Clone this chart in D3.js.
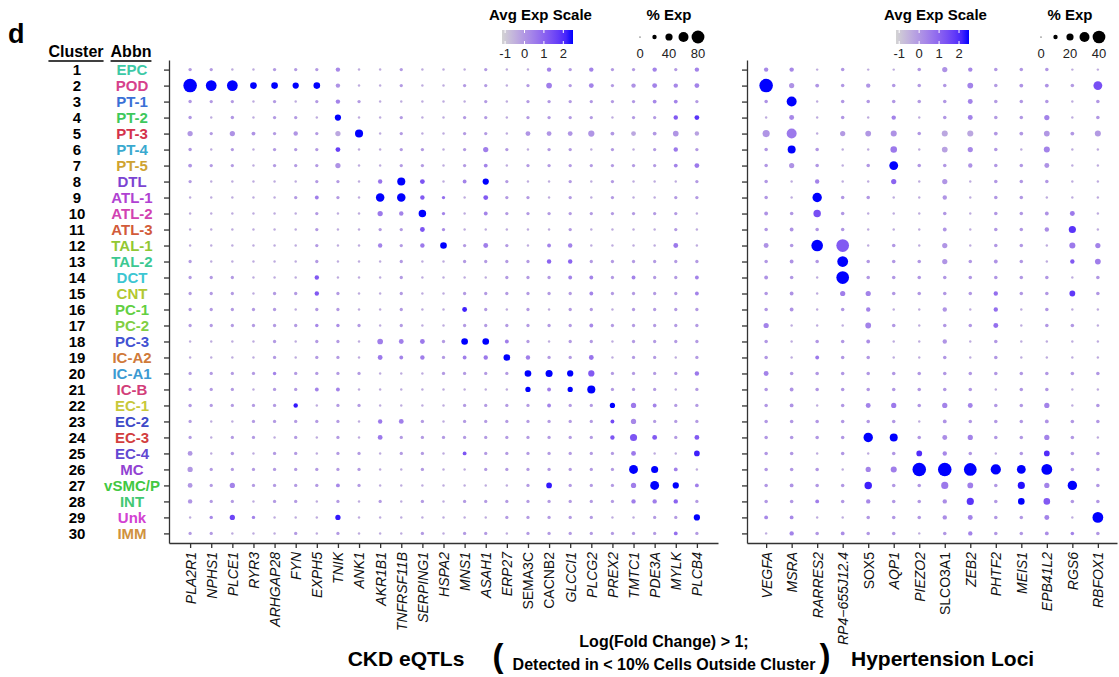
<!DOCTYPE html>
<html>
<head>
<meta charset="utf-8">
<script src="https://cdn.jsdelivr.net/npm/d3@7"></script>
<style>
  body { margin: 0; background: #fff; }
  svg { font-family: "Liberation Sans", Arial, sans-serif; }
  .axis path, .axis line { stroke: #333; stroke-width: 1.3; }
</style>
</head>
<body>
<svg id="fig" width="1119" height="677"></svg>
<script>
let clusters = [1,2,3,4,5,6,7,8,9,10,11,12,13,14,15,16,17,18,19,20,21,22,23,24,25,26,27,28,29,30]
let abbns = ["EPC","POD","PT-1","PT-2","PT-3","PT-4","PT-5","DTL","ATL-1","ATL-2","ATL-3","TAL-1","TAL-2","DCT","CNT",
  "PC-1","PC-2","PC-3","IC-A2","IC-A1","IC-B","EC-1","EC-2","EC-3","EC-4","MC","vSMC/P","INT","Unk","IMM"]
let abbnColors = ["#3dc9a6","#d6418c","#3a70d6","#3ec85c","#d4324c","#3aa9cf","#cfa332","#7b44d2","#b042d2","#d242b2","#d25b3a","#92c833",
  "#3cc892","#3cc6d2","#b2c832","#62cf42","#82cf42","#4252d2","#d07a3a","#3c9ad2","#d23e7a","#c8c83a","#3e4ac8","#d23e3e","#6249d2",
  "#9242d2","#42c842","#42c872","#d242d2","#d0923e"]

let ckdGenes = ["PLA2R1","NPHS1","PLCE1","RYR3","ARHGAP28","FYN","EXPH5","TNIK","ANK1","AKR1B1","TNFRSF11B","SERPING1","HSPA2",
  "MNS1","ASAH1","ERP27","SEMA3C","CACNB2","GLCCI1","PLCG2","PREX2","TMTC1","PDE3A","MYLK","PLCB4"]
let htnGenes = ["VEGFA","MSRA","RARRES2","RP4\u2212655J12.4","SOX5","AQP1","PIEZO2","SLCO3A1","ZEB2","PHTF2","MEIS1","EPB41L2","RGS6","RBFOX1"]
let uprightGenes = ["SEMA3C","CACNB2","SOX5","SLCO3A1"]

// percent of cells expressing, one row per cluster
let ckdPct = [
  [13,12,6,6,12,12,12,20,6,6,12,6,6,6,12,6,6,20,12,20,12,12,20,12,20],
  [85,65,65,36,36,33,36,20,6,6,12,6,6,12,12,6,12,29,12,23,12,20,23,20,23],
  [13,12,12,6,12,6,12,20,12,6,6,6,6,6,12,6,12,12,12,12,12,12,16,16,12],
  [13,6,13,6,12,12,6,33,6,6,12,6,6,12,12,6,12,12,12,12,6,12,12,20,23],
  [26,12,26,16,12,20,12,26,46,6,12,6,6,12,12,6,23,23,23,33,16,23,16,29,20],
  [13,6,12,6,12,12,12,23,6,6,12,12,6,12,26,12,6,12,12,6,12,6,12,20,12],
  [16,12,12,6,12,12,12,26,6,6,12,12,6,12,16,6,12,12,12,12,12,12,12,16,23],
  [12,6,6,6,6,6,12,12,6,20,46,23,6,16,33,12,6,6,12,6,12,6,6,6,12],
  [6,6,6,6,6,12,16,12,6,49,49,20,12,6,23,12,12,6,12,6,12,6,6,12,12],
  [6,6,6,6,6,6,12,6,6,26,20,42,12,6,16,12,12,12,12,12,12,12,12,12,6],
  [6,6,6,6,6,6,12,6,6,12,12,23,12,6,6,6,6,6,12,6,6,6,6,12,6],
  [6,6,6,6,6,6,12,6,6,20,12,20,36,12,23,12,6,16,20,6,6,6,6,23,6],
  [12,6,6,6,6,6,12,6,6,6,12,6,6,12,12,12,12,20,20,12,12,12,12,12,12],
  [12,12,12,6,6,6,20,6,6,6,12,6,6,6,6,12,12,12,16,16,12,16,12,12,16],
  [12,12,12,6,12,12,20,12,6,6,12,6,6,12,12,12,12,12,12,16,12,12,12,12,16],
  [12,12,12,12,12,6,12,12,6,6,12,6,6,23,12,6,12,6,12,12,6,12,12,12,12],
  [12,12,12,12,12,12,13,13,12,6,12,6,6,12,12,12,12,12,12,16,12,12,12,12,12],
  [6,6,6,6,12,6,12,12,6,29,23,23,12,36,36,16,12,6,12,12,6,12,12,12,12],
  [6,6,6,6,12,6,12,12,6,23,16,20,12,16,20,36,20,12,12,23,6,12,12,6,12],
  [12,12,12,12,13,12,12,12,12,6,6,6,12,12,12,12,36,39,33,33,12,12,12,12,20],
  [12,12,12,6,12,12,16,16,6,6,6,6,6,6,6,6,26,16,26,46,12,12,12,6,12],
  [13,12,12,12,12,20,6,12,12,6,6,6,6,12,12,12,12,16,12,12,26,26,16,12,12],
  [12,6,6,12,12,12,12,12,6,20,23,12,6,12,12,12,12,12,12,12,16,26,12,12,12],
  [12,6,12,12,6,12,6,12,6,23,12,12,12,12,12,12,12,12,12,12,20,39,23,12,23],
  [23,6,13,6,12,12,6,12,12,6,12,12,6,16,12,12,12,12,12,12,12,23,6,6,29],
  [26,12,12,12,12,12,12,12,12,6,6,12,6,6,12,12,12,12,12,12,12,52,39,16,6],
  [23,12,26,12,12,12,12,16,12,6,6,6,6,6,6,6,12,29,12,12,12,26,52,33,16],
  [20,12,12,6,12,12,6,12,6,12,6,12,6,12,12,12,12,12,12,12,12,20,20,20,12],
  [6,13,26,13,6,6,6,26,6,6,6,6,6,6,6,12,12,12,12,12,6,6,12,12,33],
  [12,12,6,6,6,12,6,12,6,6,6,12,6,12,12,6,12,12,12,12,12,12,12,16,12]
]
// scaled average expression
let ckdExp = [
  [-0.05,-0.05,-0.4,-0.4,-0.05,-0.05,-0.05,0.3,-0.4,-0.4,-0.05,-0.4,-0.4,-0.4,-0.05,-0.4,-0.4,0.4,-0.05,0.4,-0.05,-0.05,0.4,-0.05,0.4],
  [2.5,2.5,2.5,2.5,2.5,2.5,2.5,0.1,-0.4,-0.4,-0.05,-0.4,-0.4,-0.05,-0.05,-0.4,-0.05,0.5,-0.05,0.4,-0.05,0.1,0.4,0.3,0.4],
  [0,-0.05,-0.05,-0.4,-0.05,-0.4,-0.05,0.4,-0.05,-0.4,-0.4,-0.4,-0.4,-0.4,-0.05,-0.4,-0.05,0,-0.05,0,-0.05,0,0.3,0.4,-0.05],
  [0,-0.4,0,-0.4,-0.05,-0.05,-0.4,2.5,-0.4,-0.4,-0.05,-0.4,-0.4,-0.05,-0.05,-0.4,-0.05,-0.05,-0.05,-0.05,-0.4,-0.05,-0.05,1.2,1.9],
  [0,-0.05,0.1,0.1,-0.05,0.05,-0.05,-0.3,2.5,-0.4,-0.05,-0.4,-0.4,-0.05,-0.05,-0.4,0.05,0.05,0.05,0.05,0,-0.3,0,0.05,-0.2],
  [0,-0.4,-0.05,-0.4,-0.05,-0.05,-0.05,1.7,-0.4,-0.4,-0.05,-0.05,-0.4,-0.05,0.5,-0.05,-0.4,-0.05,-0.05,-0.4,-0.05,-0.4,-0.05,0.6,-0.05],
  [0.05,-0.05,-0.05,-0.4,-0.05,-0.05,-0.05,0.1,-0.4,-0.4,-0.05,-0.05,-0.4,-0.05,0.4,-0.4,-0.05,-0.05,-0.05,-0.05,-0.05,-0.05,-0.05,0.4,0.6],
  [-0.05,-0.4,-0.4,-0.4,-0.4,-0.4,-0.05,-0.05,-0.4,0.7,2.5,1.3,-0.4,0.4,2.5,-0.05,-0.4,-0.4,-0.05,-0.4,-0.05,-0.4,-0.4,-0.4,-0.05],
  [-0.4,-0.4,-0.4,-0.4,-0.4,-0.05,0.5,-0.05,-0.4,2.5,2.5,1.2,0.8,-0.4,1.2,-0.05,-0.05,-0.4,-0.05,-0.4,-0.05,-0.4,-0.4,-0.05,-0.05],
  [-0.4,-0.4,-0.4,-0.4,-0.4,-0.4,-0.05,-0.4,-0.4,0.6,0.4,2.5,0.4,-0.4,0.4,-0.05,-0.05,-0.05,-0.05,-0.05,-0.05,-0.05,-0.05,-0.05,-0.4],
  [-0.4,-0.4,-0.4,-0.4,-0.4,-0.4,-0.05,-0.4,-0.4,-0.05,-0.05,1.3,0.2,-0.4,-0.4,-0.4,-0.4,-0.4,-0.05,-0.4,-0.4,-0.4,-0.4,-0.05,-0.4],
  [-0.4,-0.4,-0.4,-0.4,-0.4,-0.4,-0.05,-0.4,-0.4,0.4,-0.05,0.6,2.5,-0.05,0.5,-0.05,-0.4,0.4,0.4,-0.4,-0.4,-0.4,-0.4,0.6,-0.4],
  [-0.05,-0.4,-0.4,-0.4,-0.4,-0.4,-0.05,-0.4,-0.4,-0.4,-0.05,-0.4,-0.4,-0.05,-0.05,-0.05,-0.05,1.0,1.0,-0.05,-0.05,-0.05,-0.05,-0.05,-0.05],
  [-0.05,-0.05,-0.05,-0.4,-0.4,-0.4,1.2,-0.4,-0.4,-0.4,-0.05,-0.4,-0.4,-0.4,-0.4,-0.05,-0.05,-0.05,0.4,0.4,-0.05,0.4,-0.05,-0.05,0.4],
  [-0.05,-0.05,-0.05,-0.4,-0.05,-0.05,1.2,-0.05,-0.4,-0.4,-0.05,-0.4,-0.4,-0.05,-0.05,-0.05,-0.05,-0.05,-0.05,0.4,-0.05,-0.05,-0.05,-0.05,0.4],
  [-0.05,-0.05,-0.05,-0.05,-0.05,-0.4,-0.05,-0.05,-0.4,-0.4,-0.05,-0.4,-0.4,2.2,-0.05,-0.4,-0.05,-0.4,-0.05,-0.05,-0.4,-0.05,-0.05,-0.05,-0.05],
  [-0.05,-0.05,-0.05,-0.05,-0.05,-0.05,0.3,0.2,-0.05,-0.4,-0.05,-0.4,-0.4,-0.05,-0.05,-0.05,-0.05,-0.05,-0.05,0.3,-0.05,-0.05,-0.05,-0.05,-0.05],
  [-0.4,-0.4,-0.4,-0.4,-0.05,-0.4,-0.05,-0.05,-0.4,0.5,0.5,0.6,-0.05,2.5,2.5,0.5,-0.05,-0.4,-0.05,-0.05,-0.4,-0.05,-0.05,-0.05,-0.05],
  [-0.4,-0.4,-0.4,-0.4,-0.05,-0.4,-0.05,-0.05,-0.4,0.6,0.4,0.5,-0.05,0.5,0.6,2.5,0.5,-0.05,-0.05,0.7,-0.4,-0.05,-0.05,-0.4,-0.05],
  [-0.05,-0.05,-0.05,-0.05,0.4,-0.05,-0.05,-0.05,-0.05,-0.4,-0.4,-0.4,-0.05,-0.05,-0.05,-0.05,2.5,2.5,2.5,1.2,-0.05,-0.05,-0.05,-0.05,0.6],
  [-0.05,-0.05,-0.05,-0.4,-0.05,-0.05,0.4,0.4,-0.4,-0.4,-0.4,-0.4,-0.4,-0.4,-0.4,-0.4,2.5,0.5,2.5,2.5,-0.05,-0.05,-0.05,-0.4,-0.05],
  [0,-0.05,-0.05,-0.05,-0.05,2.3,-0.4,-0.05,-0.05,-0.4,-0.4,-0.4,-0.4,-0.05,-0.05,-0.05,-0.05,0.4,-0.05,-0.05,2.5,0.6,0.4,-0.05,-0.05],
  [-0.05,-0.4,-0.4,-0.05,-0.05,-0.05,-0.05,-0.05,-0.4,0.6,0.5,-0.05,-0.4,-0.05,-0.05,-0.05,-0.05,-0.05,-0.05,-0.05,1.5,0.3,-0.05,-0.05,-0.05],
  [-0.05,-0.4,-0.05,-0.05,-0.4,-0.05,-0.4,-0.05,-0.4,0.6,-0.05,-0.05,-0.05,-0.05,-0.05,-0.05,-0.05,-0.05,-0.05,-0.05,1.3,1.3,1.2,-0.05,1.2],
  [0,-0.4,0,-0.4,-0.05,-0.05,-0.4,-0.05,-0.05,-0.4,-0.05,-0.05,-0.4,1.3,-0.05,-0.05,-0.05,-0.05,-0.05,-0.05,-0.05,0.6,-0.4,-0.4,2.2],
  [0,-0.05,-0.05,-0.05,-0.05,-0.05,-0.05,-0.05,-0.05,-0.4,-0.4,-0.05,-0.4,-0.4,-0.05,-0.05,-0.05,-0.05,-0.05,-0.05,-0.05,2.5,2.5,0.5,-0.4],
  [0,-0.05,0.4,-0.05,-0.05,-0.05,-0.05,0.3,-0.05,-0.4,-0.4,-0.4,-0.4,-0.4,-0.4,-0.4,-0.05,2.3,-0.05,-0.05,-0.05,0.5,2.5,2.5,0.5],
  [0.05,-0.05,-0.05,-0.4,-0.05,-0.05,-0.4,-0.05,-0.4,-0.05,-0.4,-0.05,-0.4,-0.05,-0.05,-0.05,-0.05,-0.05,-0.05,-0.05,-0.05,0.5,0.5,1.0,-0.05],
  [-0.4,0.3,1.6,0.4,-0.4,-0.4,-0.4,2.3,-0.4,-0.4,-0.4,-0.4,-0.4,-0.4,-0.4,-0.05,-0.05,-0.05,-0.05,-0.05,-0.4,-0.4,-0.05,-0.05,2.5],
  [-0.05,-0.05,-0.4,-0.4,-0.4,-0.05,-0.4,-0.05,-0.4,-0.4,-0.4,-0.05,-0.4,-0.05,-0.05,-0.4,-0.05,-0.05,-0.05,-0.05,-0.05,-0.05,-0.05,0.8,-0.05]
]

let htnPct = [
  [10,10,3,7,3,3,7,13,10,7,7,7,3,3],
  [43,13,8,7,10,7,7,7,15,7,8,8,7,26],
  [7,30,3,7,7,7,7,7,12,7,7,7,3,7],
  [3,12,3,7,3,10,3,7,12,7,7,13,3,7],
  [20,30,3,13,15,16,7,16,16,8,8,15,8,16],
  [7,23,7,3,3,18,3,15,13,7,3,16,3,3],
  [7,13,7,3,7,26,7,7,10,7,7,12,3,3],
  [7,3,10,3,3,13,3,13,3,7,7,7,3,3],
  [7,3,28,7,7,3,3,10,3,7,7,3,3,3],
  [8,7,21,7,3,3,3,7,3,7,7,8,12,3],
  [7,8,7,7,3,3,3,8,3,7,7,10,20,3],
  [12,7,36,40,3,7,3,13,3,7,7,3,16,13],
  [7,8,7,33,7,7,7,13,7,8,7,3,10,15],
  [8,7,3,40,7,7,7,7,7,7,7,7,3,7],
  [7,8,3,13,13,7,7,7,7,10,7,7,15,7],
  [7,8,3,7,10,3,3,10,3,10,3,7,3,3],
  [13,3,3,3,15,7,3,7,7,12,3,7,7,3],
  [7,3,7,7,8,3,3,10,3,7,3,3,3,3],
  [7,3,8,7,7,3,3,7,3,7,3,3,3,3],
  [12,7,7,7,7,7,7,7,7,7,7,7,7,7],
  [7,8,7,7,7,7,7,7,7,3,7,7,3,3],
  [7,8,3,7,12,13,7,13,12,7,7,13,3,7],
  [7,7,7,7,7,7,3,8,7,7,7,8,7,7],
  [7,7,7,7,28,23,7,12,13,7,7,13,7,3],
  [7,7,3,7,3,7,15,10,7,3,7,15,7,7],
  [7,7,7,3,13,16,43,43,40,31,26,33,7,7],
  [7,8,7,7,21,7,7,20,15,7,20,13,28,7],
  [7,7,8,7,10,7,7,10,20,7,18,18,7,7],
  [8,8,3,3,7,7,7,10,12,7,7,12,3,33],
  [3,10,7,8,7,7,3,7,10,7,7,8,7,7]
]
let htnExp = [
  [0.3,0.3,-0.4,0,-0.4,-0.4,0,0.1,0.3,0,0,0,-0.4,-0.4],
  [2.5,0.1,0.05,0,0.05,0,-0.05,0,0.4,-0.05,0.1,0.1,-0.05,1.4],
  [0.1,2.5,-0.4,0,0,0,-0.05,0,0.4,-0.05,0,0,-0.4,0],
  [-0.4,0.3,-0.4,0,-0.4,0.4,-0.4,0,0.4,-0.05,0,0.4,-0.4,0],
  [0.05,0.6,-0.4,-0.05,0,0.1,0,-0.3,-0.3,0,0,0,0,-0.05],
  [0,2.5,0,-0.4,-0.4,0.6,-0.4,-0.2,0.3,0,-0.4,0.4,-0.4,-0.4],
  [0,0.1,0,-0.4,0,2.5,0,0,0.1,0,0,0.1,-0.4,-0.4],
  [0,-0.4,0.4,-0.4,-0.4,1.0,-0.4,0.05,-0.4,0,0,0,-0.4,-0.4],
  [0,-0.4,2.5,0,0,-0.4,-0.4,0.05,-0.4,0,0,-0.4,-0.4,-0.4],
  [0.1,0,1.4,0,-0.4,-0.4,-0.4,0,-0.4,0,0,0.1,0.6,-0.4],
  [0,0.1,0,0,-0.4,-0.4,-0.4,0.05,-0.4,0,0,0.2,1.9,-0.4],
  [0.1,0,2.5,1.2,-0.4,0,-0.4,0.05,-0.4,0,0,-0.4,0.6,0.4],
  [0,0.1,0,2.5,0,0,0,0.05,0,0.1,0,-0.4,1.2,0.5],
  [0.1,0,-0.4,2.5,0,0,0,0,0,0.05,0,0,-0.4,0],
  [0,0.1,-0.4,0.5,0.4,0,0,0,0,0.8,0,0,1.8,0],
  [0,0.1,-0.4,0,0.4,-0.4,-0.4,0.05,-0.4,0.8,-0.4,0,-0.4,-0.4],
  [0.4,-0.4,-0.4,-0.4,0.4,0,-0.4,0,0,0.8,-0.4,0,0,-0.4],
  [0,-0.4,0,0,0.2,-0.4,-0.4,0.05,-0.4,0,-0.4,-0.4,-0.4,-0.4],
  [0,-0.4,0.6,0,0,-0.4,-0.4,0,-0.4,0,-0.4,-0.4,-0.4,-0.4],
  [0.4,0,0,0,0,0,0,0,0,0,0,0,0,0],
  [0,0.1,0,0,0,0,0,0,0,-0.4,0,0,-0.4,-0.4],
  [0,0.1,-0.4,0,0.4,0.6,0.05,0.4,0.4,0,0,0.4,-0.4,0],
  [0,0,0,0,0,0,-0.4,0.1,0,0,0,0.1,0,0],
  [0,0,0,0,2.5,2.5,0,0.2,0.4,0,0,0.4,0,-0.4],
  [0,0,-0.4,0,-0.4,0,2.0,0.3,0,-0.4,0,2.0,0,0],
  [0,0,0,-0.4,0.4,0.5,2.5,2.5,2.5,2.5,2.5,2.5,0,0],
  [0,0.1,0,0,2.2,0,0,0.6,0.5,0,2.4,0.4,2.5,0],
  [0,0,0.5,0,0.3,0,0,0.2,1.9,0,2.5,1.2,0,0],
  [0.3,0.3,-0.4,-0.4,0,0,0,0.2,0.4,0,0,0.4,-0.4,2.5],
  [-0.4,0.4,0,0.2,0,0,-0.4,0,0.4,0,0,0.2,0.4,0]
]

let expTicks = [-1, 0, 1, 2]
let ckdPctBreaks = [0, 20, 40, 60, 80]
let htnPctBreaks = [0, 10, 20, 30, 40]

let svg = d3.select("#fig")
let expDomain = [-1.16, 2.5]
let color = d3.scaleLinear()
  .domain(expDomain)
  .range(["lightgrey", "blue"])
  .interpolate(d3.interpolateLab)
  .clamp(true)
let y = d3.scalePoint()
  .domain(clusters)
  .range([60, 543])
  .padding(0.6)

function panel(genes, pct, expr, xRange, pad, pctMax) {
  let x = d3.scalePoint().domain(genes).range(xRange).padding(pad)
  let r = d3.scaleLinear().domain([0, pctMax]).range([0.8, 7.2])
  let cells = []
  pct.forEach((row, i) => row.forEach((p, j) => cells.push({
    cluster: clusters[i], gene: genes[j], pct: p, exp: expr[i][j]
  })))

  let g = svg.append("g")

  g.append("g")
    .attr("class", "axis")
    .attr("transform", `translate(0,${y.range()[1]})`)
    .call(d3.axisBottom(x).tickSize(5).tickSizeOuter(0))
    .call(a => a.selectAll("text")
      .attr("transform", "rotate(-90)")
      .attr("x", -9)
      .attr("y", 0)
      .attr("dy", "0.35em")
      .attr("text-anchor", "end")
      .attr("fill", "#111")
      .attr("font-size", 14)
      .attr("font-family", "Liberation Sans, Arial, sans-serif")
      .attr("font-style", d => uprightGenes.includes(d) ? "normal" : "italic"))

  g.append("g")
    .attr("class", "axis")
    .attr("transform", `translate(${xRange[0]},0)`)
    .call(d3.axisLeft(y).tickSize(5).tickSizeOuter(0).tickFormat(""))

  g.append("g")
    .selectAll("circle")
    .data(cells).enter()
    .append("circle")
    .attr("cx", d => x(d.gene))
    .attr("cy", d => y(d.cluster))
    .attr("r", d => r(d.pct))
    .attr("fill", d => color(d.exp))

  return r
}

function legend(barRange, breaks, dotRange, r) {
  let g = svg.append("g")
  let bx = d3.scaleLinear().domain(expDomain).range(barRange)
  let mid = (barRange[0] + barRange[1]) / 2

  g.append("text")
    .attr("x", mid + 3)
    .attr("y", 20)
    .attr("text-anchor", "middle")
    .attr("font-size", 15)
    .attr("font-weight", "bold")
    .text("Avg Exp Scale")

  let id = "grad" + Math.round(barRange[0])
  let grad = svg.append("defs").append("linearGradient").attr("id", id)
  d3.range(0, 1.01, 0.1).forEach(t => grad.append("stop")
    .attr("offset", t)
    .attr("stop-color", color(expDomain[0] + t * (expDomain[1] - expDomain[0]))))

  g.append("rect")
    .attr("x", barRange[0])
    .attr("y", 30)
    .attr("width", barRange[1] - barRange[0])
    .attr("height", 14)
    .attr("fill", `url(#${id})`)

  g.selectAll(".tk")
    .data(expTicks).enter()
    .append("path")
    .attr("d", d => `M${bx(d)},30v3M${bx(d)},44v-3`)
    .attr("stroke", "white")
    .attr("stroke-width", 1)

  g.selectAll(".lab")
    .data(expTicks).enter()
    .append("text")
    .attr("x", d => bx(d))
    .attr("y", 58)
    .attr("text-anchor", "middle")
    .attr("font-size", 13)
    .attr("fill", "#222")
    .text(d => d)

  let sx = d3.scalePoint().domain(breaks).range(dotRange)
  g.append("text")
    .attr("x", (dotRange[0] + dotRange[1]) / 2)
    .attr("y", 20)
    .attr("text-anchor", "middle")
    .attr("font-size", 15)
    .attr("font-weight", "bold")
    .text("% Exp")

  g.selectAll(".dot")
    .data(breaks).enter()
    .append("circle")
    .attr("cx", d => sx(d))
    .attr("cy", 37)
    .attr("r", d => d == 0 ? 0.6 : r(d))
    .attr("fill", "black")

  g.selectAll(".slab")
    .data(breaks.filter((d, i) => i % 2 == 0)).enter()
    .append("text")
    .attr("x", d => sx(d))
    .attr("y", 58)
    .attr("text-anchor", "middle")
    .attr("font-size", 13)
    .attr("fill", "#222")
    .text(d => d)
}

let rLeft = panel(ckdGenes, ckdPct, ckdExp, [169, 718], 1, 91)
let rRight = panel(htnGenes, htnPct, htnExp, [747, 1117], 0.75, 46)
legend([502, 573], ckdPctBreaks, [640, 698], rLeft)
legend([896, 969], htnPctBreaks, [1041, 1099], rRight)

svg.append("text")
  .attr("x", 8).attr("y", 43)
  .attr("font-size", 27).attr("font-weight", "bold")
  .text("d")

// row labels
let heads = [{t: "Cluster", x: 76}, {t: "Abbn", x: 131}]
heads.forEach(h => {
  let t = svg.append("text")
    .attr("x", h.x).attr("y", 57)
    .attr("text-anchor", "middle")
    .attr("font-size", 16).attr("font-weight", "bold")
    .text(h.t)
  let w = t.node().getComputedTextLength()
  svg.append("line")
    .attr("x1", h.x - w / 2).attr("x2", h.x + w / 2)
    .attr("y1", 61).attr("y2", 61)
    .attr("stroke", "black").attr("stroke-width", 1.5)
})

svg.append("g")
  .selectAll("text")
  .data(clusters).enter()
  .append("text")
  .attr("x", 77)
  .attr("y", d => y(d))
  .attr("dy", "0.36em")
  .attr("text-anchor", "middle")
  .attr("font-size", 15).attr("font-weight", "bold")
  .text(d => d)

svg.append("g")
  .selectAll("text")
  .data(abbns).enter()
  .append("text")
  .attr("x", 132)
  .attr("y", (d, i) => y(clusters[i]))
  .attr("dy", "0.36em")
  .attr("text-anchor", "middle")
  .attr("font-size", 15).attr("font-weight", "bold")
  .attr("fill", (d, i) => abbnColors[i])
  .text(d => d)

// bottom captions
svg.append("text")
  .attr("x", 406).attr("y", 666)
  .attr("text-anchor", "middle")
  .attr("font-size", 21).attr("font-weight", "bold")
  .text("CKD eQTLs")
svg.append("text")
  .attr("x", 498).attr("y", 667)
  .attr("text-anchor", "middle")
  .attr("font-size", 33).attr("font-weight", "bold")
  .text("(")
svg.append("text")
  .attr("x", 825).attr("y", 667)
  .attr("text-anchor", "middle")
  .attr("font-size", 33).attr("font-weight", "bold")
  .text(")")
svg.append("text")
  .attr("x", 664).attr("y", 647)
  .attr("text-anchor", "middle")
  .attr("font-size", 16).attr("font-weight", "bold")
  .text("Log(Fold Change) > 1;")
svg.append("text")
  .attr("x", 664).attr("y", 670)
  .attr("text-anchor", "middle")
  .attr("font-size", 16).attr("font-weight", "bold")
  .text("Detected in < 10% Cells Outside Cluster")
svg.append("text")
  .attr("x", 851).attr("y", 666)
  .attr("font-size", 21).attr("font-weight", "bold")
  .text("Hypertension Loci")
</script>
</body>
</html>
